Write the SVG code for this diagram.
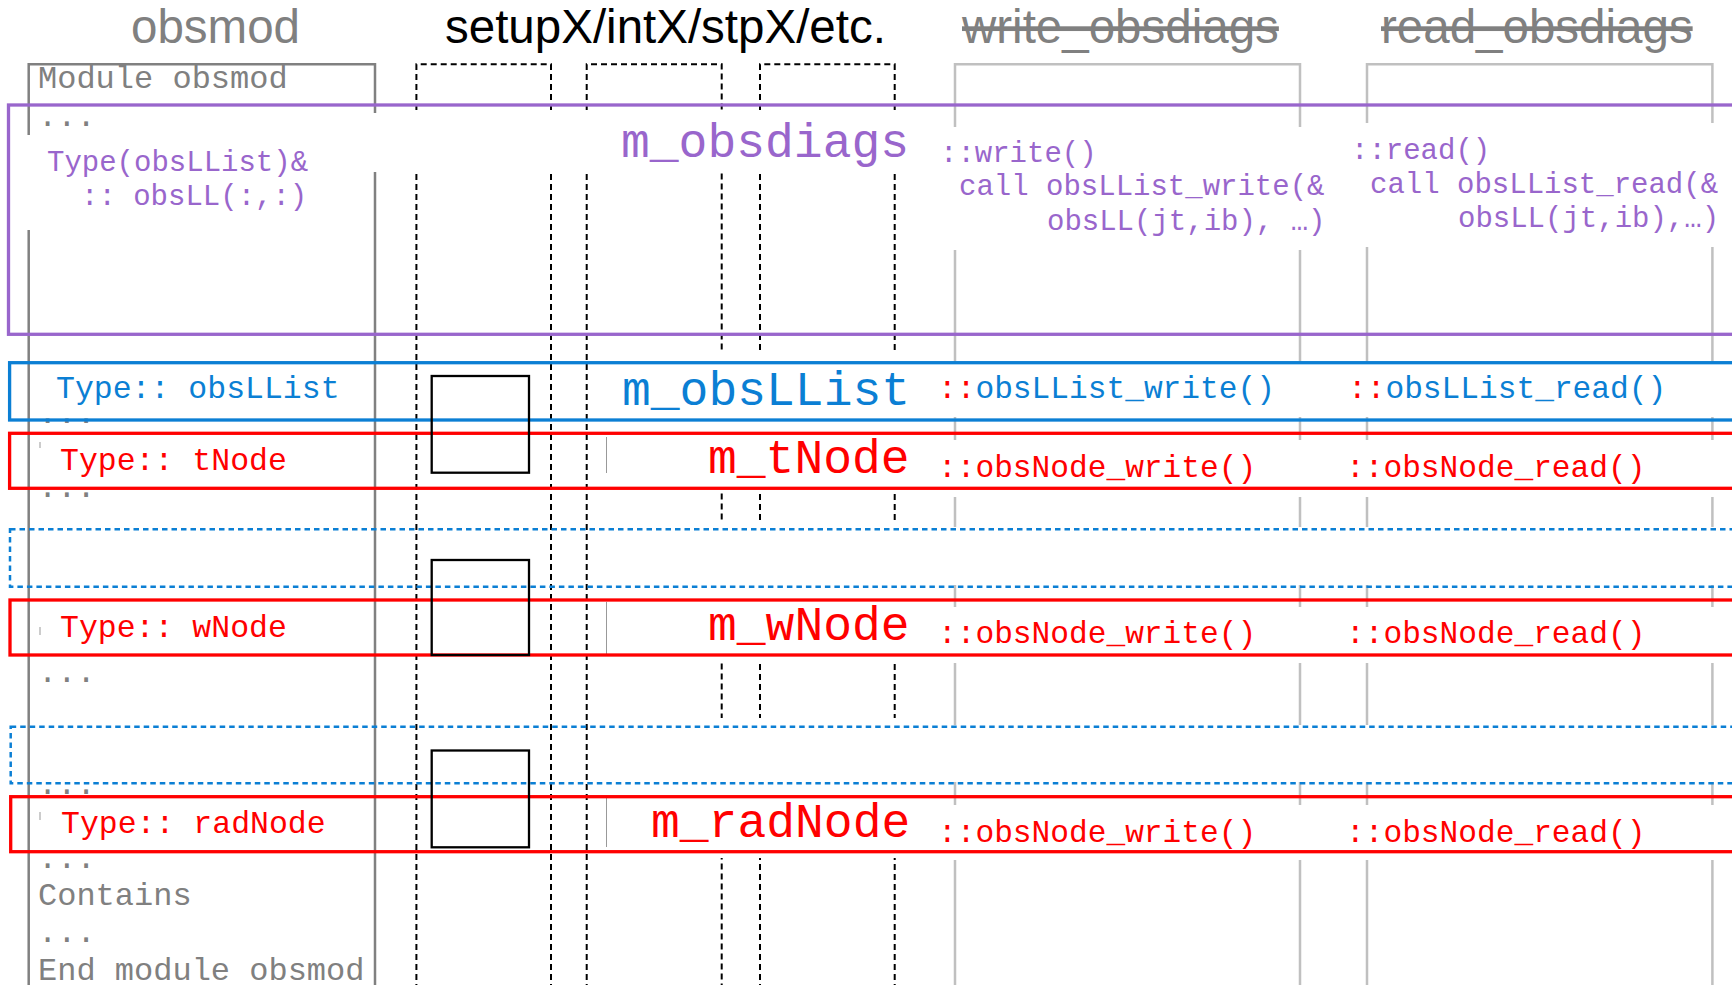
<svg xmlns="http://www.w3.org/2000/svg" width="1732" height="985" viewBox="0 0 1732 985">
<style>
.title{font-family:"Liberation Sans",Arial,sans-serif;font-size:47.5px}
.gt{fill:#808080}
.strike{text-decoration:line-through}
.mono{font-family:"Liberation Mono","Courier New",monospace}
.mod{font-size:32px;fill:#808080}
.pur{fill:#9966cc}
.blu{fill:#0b7fd4}
.red{fill:#ff0000}
.big{font-size:48px}
.row{font-size:31.5px}
.fn{font-size:31.2px}
.sm{font-size:29px}
.lane-dark{fill:none;stroke:#808080;stroke-width:2.5}
.lane-light{fill:none;stroke:#c0c0c0;stroke-width:2.5}
.lane-dot{fill:none;stroke:#000;stroke-width:2;stroke-dasharray:6 4}
.mask{fill:#fff}
.bp{fill:none;stroke:#9966cc;stroke-width:3.3}
.bb{fill:none;stroke:#0b7fd4;stroke-width:3.3}
.br{fill:none;stroke:#ff0000;stroke-width:3.3}
.bd{fill:none;stroke:#0b7fd4;stroke-width:2.5;stroke-dasharray:5.5 4}
.sq{fill:none;stroke:#000;stroke-width:2.3}
.tick{stroke:#999;stroke-width:1}
</style>

<g id="titles">
<text class="title gt" x="131" y="43">obsmod</text>
<text class="title" x="445" y="43" fill="#000">setupX/intX/stpX/etc.</text>
<text class="title gt strike" x="962" y="43">write_obsdiags</text>
<text class="title gt strike" x="1381" y="43">read_obsdiags</text>
</g>

<g id="lanes">
<path class="lane-dark" d="M28.7,990 V64.3 H375 V990"/>
<path class="lane-light" d="M955,990 V64.3 H1300 V990"/>
<path class="lane-light" d="M1367,990 V64.3 H1712.4 V990"/>
<path class="lane-dot" d="M416.4,990 V64.3 H551 V990"/>
<path class="lane-dot" d="M586.7,990 V64.3 H721.7 V990"/>
<path class="lane-dot" d="M760,990 V64.3 H894.7 V990"/>
</g>

<g id="masks">
<rect class="mask" x="368" y="113" width="578" height="59"/>
<rect class="mask" x="20" y="135" width="335" height="95"/>
<rect class="mask" x="945" y="127" width="395" height="123"/>
<rect class="mask" x="1345" y="123" width="387" height="124"/>
<rect class="mask" x="598" y="353" width="347" height="140"/>
<rect class="mask" x="945" y="362" width="787" height="55"/>
<rect class="mask" x="945" y="440" width="787" height="57"/>
<rect class="mask" x="598" y="520" width="347" height="140"/>
<rect class="mask" x="945" y="527" width="787" height="58"/>
<rect class="mask" x="945" y="607" width="787" height="56"/>
<rect class="mask" x="598" y="718" width="347" height="140"/>
<rect class="mask" x="945" y="725" width="787" height="57"/>
<rect class="mask" x="945" y="805" width="787" height="55"/>
</g>

<g id="module-text" class="mono mod">
<text x="38" y="88">Module obsmod</text>
<text x="38" y="126">...</text>
<text x="38" y="423">...</text>
<text x="38" y="497">...</text>
<text x="38" y="682">...</text>
<text x="38" y="794">...</text>
<text x="38" y="868">...</text>
<text x="38" y="905">Contains</text>
<text x="38" y="942">...</text>
<text x="38" y="980">End module obsmod</text>
</g>

<g id="ticks">
<line class="tick" x1="606.5" y1="437" x2="606.5" y2="473"/>
<line class="tick" x1="606.5" y1="602" x2="606.5" y2="655"/>
<line class="tick" x1="606.5" y1="798" x2="606.5" y2="847"/>
<line class="tick" x1="40" y1="442" x2="40" y2="448"/>
<line class="tick" x1="40" y1="627" x2="40" y2="635"/>
<line class="tick" x1="40" y1="812" x2="40" y2="820"/>
</g>

<g id="row-obsdiags">
<rect class="bp" x="8.5" y="105" width="1740" height="229.3"/>
<text class="mono sm pur" x="47" y="171">Type(obsLList)&amp;</text>
<text class="mono sm pur" x="81" y="205">:: obsLL(:,:)</text>
<text class="mono big pur" x="621" y="157">m_obsdiags</text>
<text class="mono sm pur" x="940" y="162">::write()</text>
<text class="mono sm pur" x="959" y="195">call obsLList_write(&amp;</text>
<text class="mono sm pur" x="1047" y="230">obsLL(jt,ib), …)</text>
<text class="mono sm pur" x="1351" y="159">::read()</text>
<text class="mono sm pur" x="1370" y="193">call obsLList_read(&amp;</text>
<text class="mono sm pur" x="1458" y="227">obsLL(jt,ib),…)</text>
</g>

<g id="row-obsLList">
<rect class="bb" x="9.6" y="362.7" width="1740" height="57.3"/>
<text class="mono row blu" x="56" y="398">Type:: obsLList</text>
<text class="mono big blu" x="622" y="405">m_obsLList</text>
<text class="mono fn blu" x="938" y="398"><tspan class="red">::</tspan>obsLList_write()</text>
<text class="mono fn blu" x="1348" y="398"><tspan class="red">::</tspan>obsLList_read()</text>
</g>

<g id="row-tNode">
<rect class="br" x="9.6" y="433.3" width="1740" height="55"/>
<rect class="sq" x="431.7" y="376" width="97.3" height="96.7"/>
<text class="mono row red" x="60" y="470">Type:: tNode</text>
<text class="mono big red" x="708" y="473">m_tNode</text>
<text class="mono fn red" x="938" y="477">::obsNode_write()</text>
<text class="mono fn red" x="1346" y="477">::obsNode_read()</text>
</g>

<g id="row-dashed-1">
<rect class="bd" x="10" y="529.3" width="1740" height="57.4"/>
</g>

<g id="row-wNode">
<rect class="br" x="10" y="600" width="1740" height="55"/>
<rect class="sq" x="431.7" y="560" width="97.3" height="95"/>
<text class="mono row red" x="60" y="637">Type:: wNode</text>
<text class="mono big red" x="708" y="640">m_wNode</text>
<text class="mono fn red" x="938" y="643">::obsNode_write()</text>
<text class="mono fn red" x="1346" y="643">::obsNode_read()</text>
</g>

<g id="row-dashed-2">
<rect class="bd" x="10.7" y="726.7" width="1740" height="56.6"/>
</g>

<g id="row-radNode">
<rect class="br" x="10.7" y="796.7" width="1740" height="55"/>
<rect class="sq" x="431.7" y="750.5" width="97.3" height="96.8"/>
<text class="mono row red" x="61" y="833">Type:: radNode</text>
<text class="mono big red" x="651" y="837">m_radNode</text>
<text class="mono fn red" x="938" y="842">::obsNode_write()</text>
<text class="mono fn red" x="1346" y="842">::obsNode_read()</text>
</g>

<g id="connectors"></g>
</svg>
